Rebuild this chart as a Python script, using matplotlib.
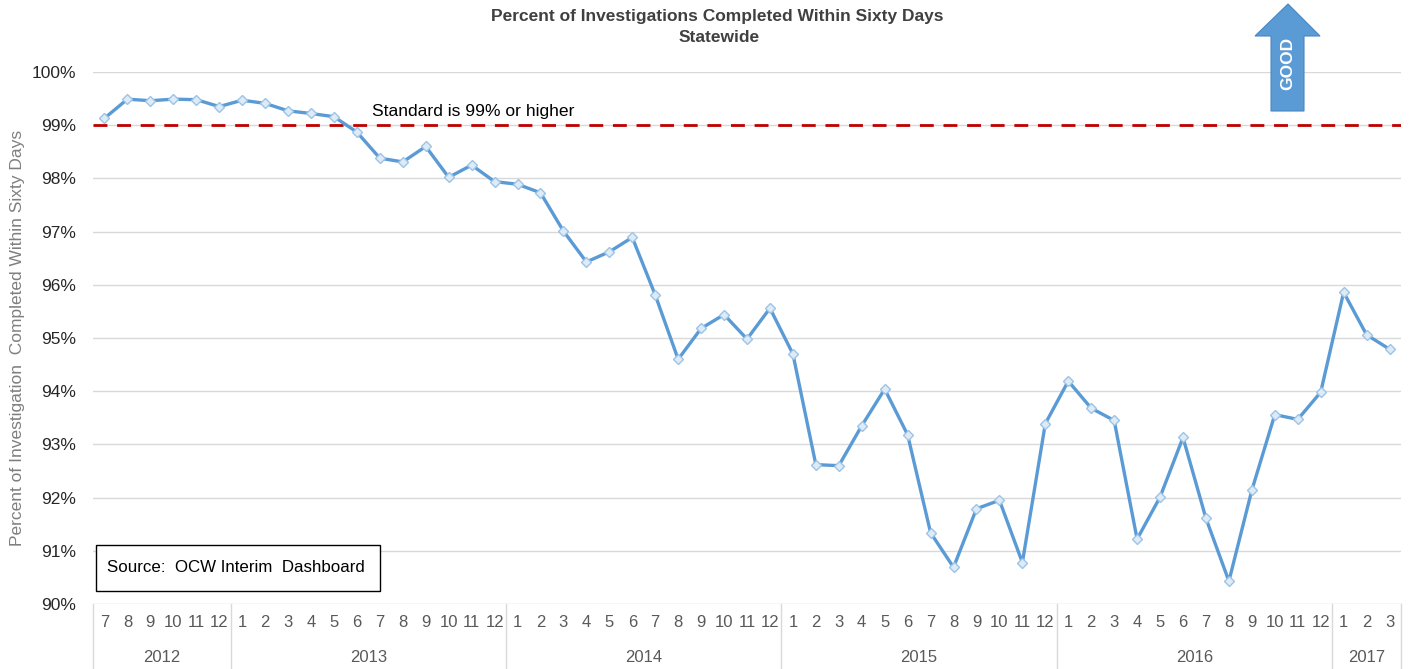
import matplotlib

matplotlib.use("Agg")
import matplotlib.pyplot as plt
import matplotlib.transforms as mtransforms
from matplotlib.patches import Polygon, Rectangle
import numpy as np

plt.rcParams["font.family"] = ["Liberation Sans", "DejaVu Sans"]

YEARS = ["2012", "2013", "2014", "2015", "2016", "2017"]
MONTHS_PER_YEAR = [
    [7, 8, 9, 10, 11, 12],
    list(range(1, 13)),
    list(range(1, 13)),
    list(range(1, 13)),
    list(range(1, 13)),
    [1, 2, 3],
]
PCT = [
    99.13, 99.49, 99.46, 99.49, 99.48, 99.35,                                      # 2012
    99.47, 99.41, 99.27, 99.22, 99.16, 98.87, 98.38, 98.31, 98.60, 98.02, 98.25, 97.94,  # 2013
    97.89, 97.73, 97.01, 96.43, 96.62, 96.89, 95.81, 94.60, 95.18, 95.44, 94.98, 95.56,  # 2014
    94.70, 92.62, 92.60, 93.35, 94.04, 93.18, 91.34, 90.69, 91.79, 91.95, 90.78, 93.39,  # 2015
    94.19, 93.68, 93.45, 91.22, 92.01, 93.13, 91.61, 90.43, 92.14, 93.56, 93.47, 93.98,  # 2016
    95.86, 95.06, 94.79,                                                          # 2017
]
STANDARD = 99
Y_TICKS = list(range(90, 101))

W, H = 1411, 669
fig = plt.figure(figsize=(W / 100, H / 100), dpi=100)
ax = fig.add_axes([93 / W, 1 - 604 / H, (1401 - 93) / W, (604 - 72) / H])

x = np.arange(len(PCT))
ax.plot(x, PCT, color="#5b9bd5", lw=2.4, marker="D", ms=5.5,
        mfc="#ddebf7", mec="#9dc3e6", mew=1.0, zorder=3)
ax.axhline(STANDARD, color="#c00000", lw=2, ls=(0, (5, 3.5)), zorder=2)
ax.text(11.65, 99.18, "Standard is 99% or higher", fontsize=12.6, color="black")

ax.set_xlim(-0.5, len(PCT) - 0.5)
ax.set_ylim(90, 100)
ax.set_yticks(Y_TICKS, [f"{v}%" for v in Y_TICKS], fontsize=12.5, color="#262626")
ax.set_xticks([])
ax.tick_params(axis="y", length=0, pad=12)
ax.grid(axis="y", color="#d9d9d9", lw=1)
ax.set_axisbelow(True)
for s in ax.spines.values():
    s.set_visible(False)

# category axis: months and years
trans = mtransforms.blended_transform_factory(ax.transData, ax.transAxes)
narrow = ["Liberation Sans Narrow", "Liberation Sans", "DejaVu Sans"]
i = 0
bounds = [-0.5]
for yr, months in zip(YEARS, MONTHS_PER_YEAR):
    start = i
    for m in months:
        ax.text(i, -0.035, str(m), transform=trans, ha="center", va="center",
                fontsize=12, color="#595959", family=narrow)
        i += 1
    ax.text((start + i - 1) / 2, -0.1, yr, transform=trans, ha="center",
            va="center", fontsize=12, color="#595959", family=narrow)
    bounds.append(i - 0.5)
for b in bounds:
    ax.plot([b, b], [0, -0.125], transform=trans, color="#d9d9d9", lw=1,
            clip_on=False)

ax.set_ylabel("Percent of Investigation  Completed Within Sixty Days",
              fontsize=12.5, color="#7f7f7f")
ax.yaxis.set_label_coords(-0.052, 0.5)

fig.text(717 / W, 1 - 17 / H, "Percent of Investigations Completed Within Sixty Days",
         ha="center", va="center", fontsize=12.5, fontweight="bold", color="#404040")
fig.text(719 / W, 1 - 37 / H, "Statewide", ha="center", va="center",
         fontsize=12.5, fontweight="bold", color="#404040")

# source box
fig.add_artist(Rectangle((96 / W, 1 - 591 / H), (380 - 96) / W, (591 - 545) / H,
                         transform=fig.transFigure, fill=True, fc="white",
                         ec="black", lw=1, zorder=5))
fig.text(107 / W, 1 - 568 / H, "Source:  OCW Interim  Dashboard", ha="left",
         va="center", fontsize=12.2, color="black", zorder=6)

# GOOD arrow
pts = [(1271, 111), (1304, 111), (1304, 36), (1320, 36), (1288, 4),
       (1255, 36), (1271, 36)]
fig.add_artist(Polygon([(px / W, 1 - py / H) for px, py in pts], closed=True,
                       transform=fig.transFigure, fc="#5b9bd5", ec="#4a86c0",
                       lw=0.8, zorder=5))
fig.text(1288 / W, 1 - 63 / H, "GOOD", rotation=90, ha="center", va="center",
         fontsize=12.5, fontweight="bold", color="white", zorder=6)

fig.savefig("out.png", dpi=100)
